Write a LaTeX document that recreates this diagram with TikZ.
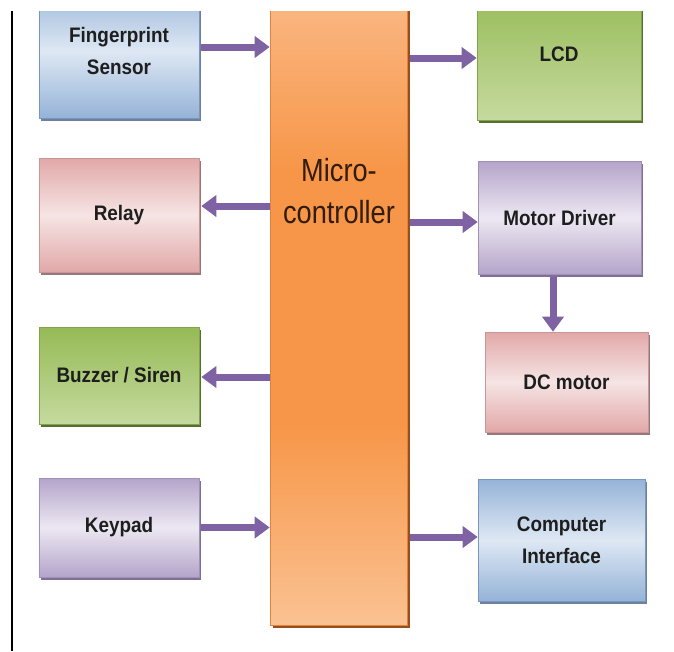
\documentclass[tikz,border=0pt]{standalone}
\usepackage{fontspec}
\setmainfont{Liberation Sans}
\newfontfamily\lblfont[FakeStretch=0.9]{Liberation Sans}
\newfontfamily\mcufont[FakeStretch=0.85]{Liberation Sans}
\usetikzlibrary{arrows.meta,shadows}
\definecolor{arrowc}{RGB}{126,98,164}
\definecolor{bluedark}{RGB}{149,179,215}
\definecolor{bluelight}{RGB}{222,232,244}
\definecolor{blueedge}{RGB}{120,150,190}
\definecolor{blueshadow}{RGB}{110,128,160}
\definecolor{pinkdark}{RGB}{226,168,168}
\definecolor{pinklight}{RGB}{246,228,228}
\definecolor{pinkedge}{RGB}{200,150,150}
\definecolor{pinkshadow}{RGB}{150,120,122}
\definecolor{greentop}{RGB}{150,186,86}
\definecolor{greenbot}{RGB}{197,218,158}
\definecolor{greenedge}{RGB}{130,165,75}
\definecolor{greenshadow}{RGB}{85,110,50}
\definecolor{purpdark}{RGB}{180,164,202}
\definecolor{purplight}{RGB}{236,232,242}
\definecolor{purpedge}{RGB}{160,145,185}
\definecolor{purpshadow}{RGB}{125,112,148}
\definecolor{orangetop}{RGB}{250,184,132}
\definecolor{orangemid}{RGB}{247,150,72}
\definecolor{orangebot}{RGB}{250,194,146}
\definecolor{orangeedge}{RGB}{225,130,60}
\definecolor{orangeshadow}{RGB}{150,80,30}
\definecolor{txt}{RGB}{30,30,30}
\pgfdeclareverticalshading{mcushade}{100bp}{color(0bp)=(orangebot); color(25bp)=(orangebot); color(41bp)=(orangemid); color(61bp)=(orangemid); color(75bp)=(orangetop); color(100bp)=(orangetop)}
\tikzset{
  blk/.style={rectangle, inner sep=0pt, align=center, text=txt,
    font=\lblfont\bfseries\fontsize{21}{32}\selectfont, line width=0.6pt},
  bluebox/.style={blk, draw=blueedge, shading=axis, shading angle=45,
    top color=bluedark, bottom color=bluedark, middle color=bluelight,
    drop shadow={shadow xshift=2pt, shadow yshift=-3pt, fill=blueshadow, opacity=1}},
  pinkbox/.style={blk, draw=pinkedge, shading=axis, shading angle=45,
    top color=pinkdark, bottom color=pinkdark, middle color=pinklight,
    drop shadow={shadow xshift=2pt, shadow yshift=-3pt, fill=pinkshadow, opacity=1}},
  greenbox/.style={blk, draw=greenedge, top color=greentop, bottom color=greenbot,
    drop shadow={shadow xshift=2pt, shadow yshift=-3pt, fill=greenshadow, opacity=1}},
  purpbox/.style={blk, draw=purpedge, shading=axis, shading angle=45,
    top color=purpdark, bottom color=purpdark, middle color=purplight,
    drop shadow={shadow xshift=2pt, shadow yshift=-3pt, fill=purpshadow, opacity=1}},
  mcubox/.style={rectangle, inner sep=0pt, draw=orangeedge, line width=0.6pt,
    shade, shading=mcushade,
    drop shadow={shadow xshift=2.5pt, shadow yshift=-3pt, fill=orangeshadow, opacity=1}},
  arr/.style={draw=arrowc, line width=7pt,
    -{Triangle[width=21pt,length=15pt,fill=arrowc]}, shorten >=0pt},
}
\begin{document}
\begin{tikzpicture}[x=1pt,y=-1pt]
\useasboundingbox (0,0) rectangle (674,651);
\fill[white] (0,0) rectangle (674,651);
\draw[line width=1.6pt, black] (12,11) -- (12,651);
\clip (0,11) rectangle (674,651);

% left column
\node[bluebox, minimum width=160pt, minimum height=134pt] (fp) at (119,51) {Fingerprint\\Sensor};
\node[pinkbox, minimum width=160pt, minimum height=114pt] (relay) at (119,215) {Relay};
\node[greenbox, minimum width=160pt, minimum height=97pt] (buzz) at (119,375.5) {Buzzer / Siren};
\node[purpbox, minimum width=160pt, minimum height=99pt] (key) at (119,527.5) {Keypad};

% microcontroller
\node[mcubox, minimum width=137pt, minimum height=630pt] (mcu) at (338.5,310) {};
\node[font=\mcufont\fontsize{32}{42}\selectfont, text={rgb,255:red,50;green,28;blue,12}, align=center, inner sep=0pt] (mcutxt) at (339,191) {Micro-\\controller};

% right column
\node[greenbox, minimum width=164pt, minimum height=132pt] (lcd) at (559,54) {LCD};
\node[purpbox, minimum width=163pt, minimum height=113pt] (md) at (559.5,217.5) {Motor Driver};
\node[pinkbox, minimum width=163pt, minimum height=100pt] (dc) at (566.5,382) {DC motor};
\node[bluebox, minimum width=167pt, minimum height=122pt] (ci) at (561.5,540) {Computer\\Interface};

% connectors
\draw[arr] ([yshift=4pt,xshift=2pt]fp.east) -- ([yshift=4pt]fp.east -| mcu.west);
\draw[arr] ([yshift=9pt]relay.east -| mcu.west) -- ([yshift=9pt,xshift=2pt]relay.east);
\draw[arr] ([yshift=-1.5pt]buzz.east -| mcu.west) -- ([yshift=-1.5pt,xshift=2pt]buzz.east);
\draw[arr] ([xshift=2pt]key.east) -- (key.east -| mcu.west);
\draw[arr] ([yshift=-4pt,xshift=2.5pt]mcu.east |- lcd.west) -- ([yshift=-4pt]lcd.west);
\draw[arr] ([yshift=-4.5pt,xshift=2.5pt]mcu.east |- md.west) -- ([yshift=-4.5pt]md.west);
\draw[arr] ([xshift=-6.5pt,yshift=-3pt]md.south) -- ([xshift=-6.5pt]md.south |- dc.north);
\draw[arr] ([yshift=3pt,xshift=2.5pt]mcu.east |- ci.west) -- ([yshift=3pt]ci.west);
\end{tikzpicture}
\end{document}
